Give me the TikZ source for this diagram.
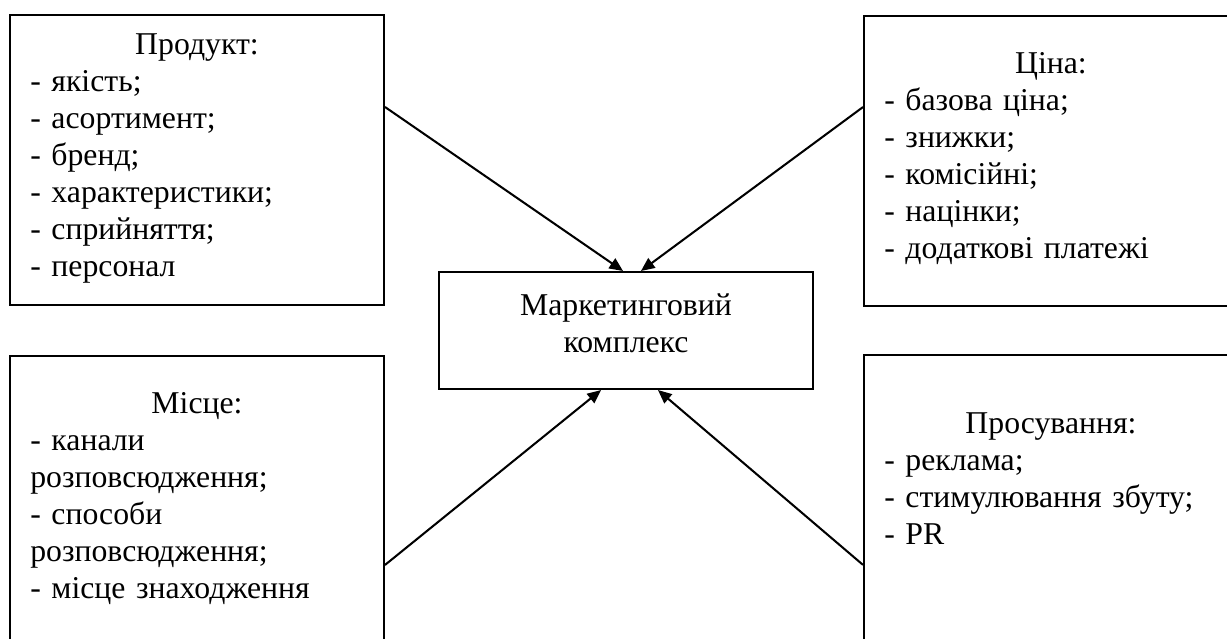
\documentclass[tikz,border=0pt]{standalone}
\usepackage{fontspec}
\setmainfont{Liberation Serif}
\usetikzlibrary{positioning,arrows.meta}

\tikzset{
  card/.style={draw, rectangle, line width=0.9pt, minimum width=164.9pt, anchor=north west, inner sep=0pt},
  list/.style={text width=147pt, align=left, inner sep=0pt, font=\fontsize{14pt}{16.3pt}\selectfont},
  link/.style={-{Triangle[length=6pt,width=5.2pt]}, line width=0.9pt}
}
\newcommand{\cardtitle}[1]{\makebox[\hsize]{#1}}

\begin{document}
\begin{tikzpicture}[x=0.441pt, y=-0.441pt]
    \path[use as bounding box, clip] (0,0) rectangle (1227,639);

    % boxes
    \node[card, minimum height=127.9pt] (prod) at (9,14) {};
    \node[card, minimum height=127.9pt] (price) at (863,15) {};
    \node[card, minimum height=51.6pt] (mix) at (438,271) {};
    \node[card, minimum height=132pt] (place) at (9,355) {};
    \node[card, minimum height=132pt] (promo) at (863,354) {};

    % texts
    \node[list, below=8.4pt of prod.north] (prodtext) {\cardtitle{Продукт:}\\- якість;\\- асортимент;\\- бренд;\\- характеристики;\\- сприйняття;\\- персонал};
    \node[list, below=16.3pt of price.north] (pricetext) {\cardtitle{Ціна:}\\- базова ціна;\\- знижки;\\- комісійні;\\- націнки;\\- додаткові платежі};
    \node[list, align=center, below=9.7pt of mix.north] (mixtext) {Маркетинговий\\комплекс};
    \node[list, below=16.3pt of place.north] (placetext) {\cardtitle{Місце:}\\- канали\\розповсюдження;\\- способи\\розповсюдження;\\- місце знаходження};
    \node[list, below=25.6pt of promo.north] (promotext) {\cardtitle{Просування:}\\- реклама;\\- стимулювання збуту;\\- PR};

    % arrows
    \draw[link] ([yshift=-41pt]prod.north east) -- ([xshift=-1.3pt]mix.north);
    \draw[link] ([yshift=-40.6pt]price.north west) -- ([xshift=6.6pt]mix.north);
    \draw[link] ([yshift=-92.6pt]place.north east) -- ([xshift=-11pt]mix.south);
    \draw[link] ([yshift=-93pt]promo.north west) -- ([xshift=14.1pt]mix.south);
\end{tikzpicture}
\end{document}
